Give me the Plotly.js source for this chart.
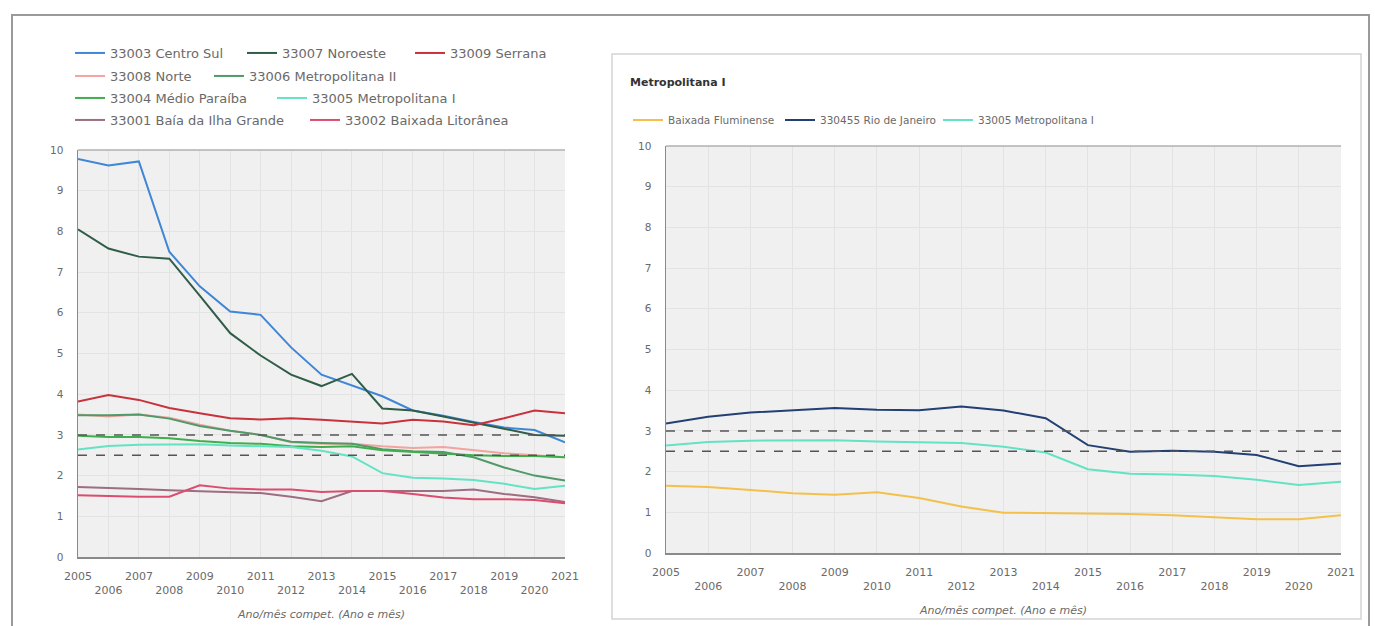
<!DOCTYPE html>
<html>
<head>
<meta charset="utf-8">
<script src="https://cdn.plot.ly/plotly-3.0.1.min.js"></script>
<style>html,body{margin:0;padding:0;background:#fff;}#chart{width:1375px;height:626px;}</style>
</head>
<body>
<div id="chart"></div>
<script>
// ---- data ----
const years = [2005,2006,2007,2008,2009,2010,2011,2012,2013,2014,2015,2016,2017,2018,2019,2020,2021];
const tickLabels = ["2005","<br>2006","2007","<br>2008","2009","<br>2010","2011","<br>2012","2013","<br>2014","2015","<br>2016","2017","<br>2018","2019","<br>2020","2021"];
const refLines = [3, 2.5];

const centroSul        = [9.78,9.62,9.72,7.50,6.65,6.03,5.95,5.15,4.48,4.22,3.95,3.60,3.47,3.32,3.18,3.12,2.82];
const noroeste         = [8.05,7.58,7.38,7.33,6.42,5.50,4.95,4.48,4.20,4.50,3.65,3.60,3.45,3.30,3.15,3.00,2.98];
const serrana          = [3.82,3.98,3.86,3.66,3.53,3.41,3.38,3.41,3.37,3.33,3.28,3.37,3.33,3.24,3.41,3.60,3.53];
const norte            = [3.50,3.45,3.50,3.42,3.25,3.10,3.00,2.82,2.78,2.78,2.72,2.68,2.70,2.62,2.55,2.50,2.45];
const metroII          = [3.48,3.48,3.50,3.40,3.22,3.10,3.00,2.83,2.80,2.78,2.65,2.60,2.58,2.45,2.20,2.00,1.88];
const medioParaiba     = [2.98,2.95,2.95,2.92,2.85,2.80,2.78,2.72,2.70,2.72,2.62,2.58,2.55,2.50,2.48,2.48,2.45];
const metroI           = [2.64,2.73,2.76,2.77,2.77,2.74,2.72,2.70,2.61,2.47,2.06,1.95,1.93,1.89,1.80,1.67,1.75];
const baiaIlhaGrande   = [1.72,1.70,1.67,1.64,1.62,1.60,1.57,1.48,1.37,1.62,1.62,1.62,1.62,1.66,1.55,1.47,1.35];
const baixadaLitoranea = [1.52,1.50,1.48,1.48,1.76,1.68,1.66,1.66,1.60,1.62,1.62,1.55,1.46,1.42,1.42,1.40,1.32];

const rioJaneiro        = [3.18,3.35,3.45,3.50,3.56,3.52,3.51,3.60,3.50,3.31,2.65,2.49,2.51,2.49,2.41,2.13,2.20];
const baixadaFluminense = [1.65,1.62,1.55,1.47,1.43,1.49,1.35,1.14,0.99,0.98,0.98,0.96,0.93,0.88,0.83,0.83,0.93];

const leftNames = ["33003 Centro Sul","33007 Noroeste","33009 Serrana","33008 Norte","33006 Metropolitana II","33004 Médio Paraíba","33005 Metropolitana I","33001 Baía da Ilha Grande","33002 Baixada Litorânea"];
const rightNames = ["Baixada Fluminense","330455 Rio de Janeiro","33005 Metropolitana I"];
const rightTitle = "Metropolitana I";
const xTitle = "Ano/mês compet. (Ano e mês)";

// ---- styling ----
const W = 1375, H = 626;
const px = v => v / W;
const py = v => 1 - v / H;
const FONT = "DejaVu Sans, sans-serif";
const TXT = "#6a6a6a";

// legend item positions (symbol start x, row centre y) in pixels
const leftSeries = [
  {y: centroSul,        c: "#3f86d6", lx: 78,  ly: 53},
  {y: noroeste,         c: "#2f5d48", lx: 250, ly: 53},
  {y: serrana,          c: "#c7323d", lx: 418, ly: 53},
  {y: norte,            c: "#f3a3a0", lx: 78,  ly: 76},
  {y: metroII,          c: "#4f9a68", lx: 217, ly: 76},
  {y: medioParaiba,     c: "#3fae4c", lx: 78,  ly: 98},
  {y: metroI,           c: "#63e2c4", lx: 280, ly: 98},
  {y: baiaIlhaGrande,   c: "#9d6d82", lx: 78,  ly: 120},
  {y: baixadaLitoranea, c: "#db4d6f", lx: 313, ly: 120}
];
const rightSeries = [
  {y: baixadaFluminense, c: "#f3c04c", lx: 636, ly: 120},
  {y: rioJaneiro,        c: "#233f73", lx: 788, ly: 120},
  {y: metroI,            c: "#63e2c4", lx: 946, ly: 120}
];

const mkLeg = (x, y, size) => ({orientation: "h", xanchor: "left", yanchor: "middle", bgcolor: "rgba(0,0,0,0)",
  font: {family: FONT, size: size, color: TXT}, itemclick: false, itemdoubleclick: false,
  x: px(x - 8), y: py(y)});

const traces = [];
const legends = {};
let n = 0;
leftSeries.forEach((s, i) => {
  n++; const key = n === 1 ? "legend" : "legend" + n;
  legends[key] = mkLeg(s.lx, s.ly, 13);
  traces.push({x: years, y: s.y, name: leftNames[i], type: "scatter", mode: "lines",
    line: {color: s.c, width: 2}, xaxis: "x", yaxis: "y", legend: key, hoverinfo: "skip"});
});
rightSeries.forEach((s, i) => {
  n++; const key = "legend" + n;
  legends[key] = mkLeg(s.lx, s.ly, 10.5);
  traces.push({x: years, y: s.y, name: rightNames[i], type: "scatter", mode: "lines",
    line: {color: s.c, width: 2}, xaxis: "x2", yaxis: "y2", legend: key, hoverinfo: "skip"});
});

function xax(domain, anchor) {
  return {
    domain: domain, range: [2005, 2021], anchor: anchor, tickmode: "array", tickvals: years, ticktext: tickLabels,
    showgrid: true, gridcolor: "#e3e3e3", gridwidth: 1, zeroline: false,
    showline: true, linecolor: "#8a8a8a", linewidth: 1.5, ticks: "",
    ticklabelstandoff: 8,
    tickfont: {family: FONT, size: 11, color: TXT}, tickangle: 0,
    title: {text: "<i>" + xTitle + "</i>", font: {family: FONT, size: 11, color: TXT}, standoff: 14},
    fixedrange: true
  };
}
function yax(domain, anchor) {
  return {
    domain: domain, range: [0, 10], dtick: 1, tick0: 0, anchor: anchor,
    showgrid: true, gridcolor: "#e3e3e3", gridwidth: 1, zeroline: false,
    showline: true, linecolor: "#8a8a8a", linewidth: 1.5, ticks: "",
    ticklabelstandoff: 11,
    tickfont: {family: FONT, size: 10.5, color: TXT}, fixedrange: true
  };
}

const shapes = [];
// outer frame
shapes.push({type: "rect", xref: "paper", yref: "paper", x0: px(12), x1: px(1369), y0: py(15), y1: py(640),
  line: {color: "#9a9a9a", width: 2}, fillcolor: "rgba(0,0,0,0)", layer: "below"});
// right panel box
shapes.push({type: "rect", xref: "paper", yref: "paper", x0: px(612), x1: px(1361), y0: py(54), y1: py(619),
  line: {color: "#d4d4d4", width: 1.5}, fillcolor: "rgba(0,0,0,0)", layer: "below"});
// top border lines of plot areas + reference lines
[["x","y"],["x2","y2"]].forEach(([xa, ya]) => {
  shapes.push({type: "line", xref: xa + " domain", yref: ya + " domain", x0: 0, x1: 1, y0: 1, y1: 1,
    line: {color: "#b0b0b0", width: 1.5}});
  refLines.forEach(v => shapes.push({type: "line", xref: xa + " domain", yref: ya, x0: 0, x1: 1, y0: v, y1: v,
    line: {color: "#555", width: 1.5, dash: "dash"}, layer: "above"}));
});

const layout = Object.assign({
  width: W, height: H, margin: {l: 0, r: 0, t: 0, b: 0},
  paper_bgcolor: "#fff", plot_bgcolor: "#f0f0f0",
  showlegend: true,
  xaxis: xax([px(78), px(565)], "y"),
  yaxis: yax([1 - 557 / H, 1 - 150 / H], "x"),
  xaxis2: xax([px(666), px(1341)], "y2"),
  yaxis2: yax([1 - 553 / H, 1 - 146 / H], "x2"),
  shapes: shapes,
  annotations: [{
    text: "<b>" + rightTitle + "</b>", xref: "paper", yref: "paper", x: px(628), y: py(82),
    xanchor: "left", yanchor: "middle", showarrow: false, font: {family: FONT, size: 11, color: "#333"}
  }]
}, legends);

Plotly.newPlot("chart", traces, layout, {displayModeBar: false, staticPlot: true});
</script>
</body>
</html>
